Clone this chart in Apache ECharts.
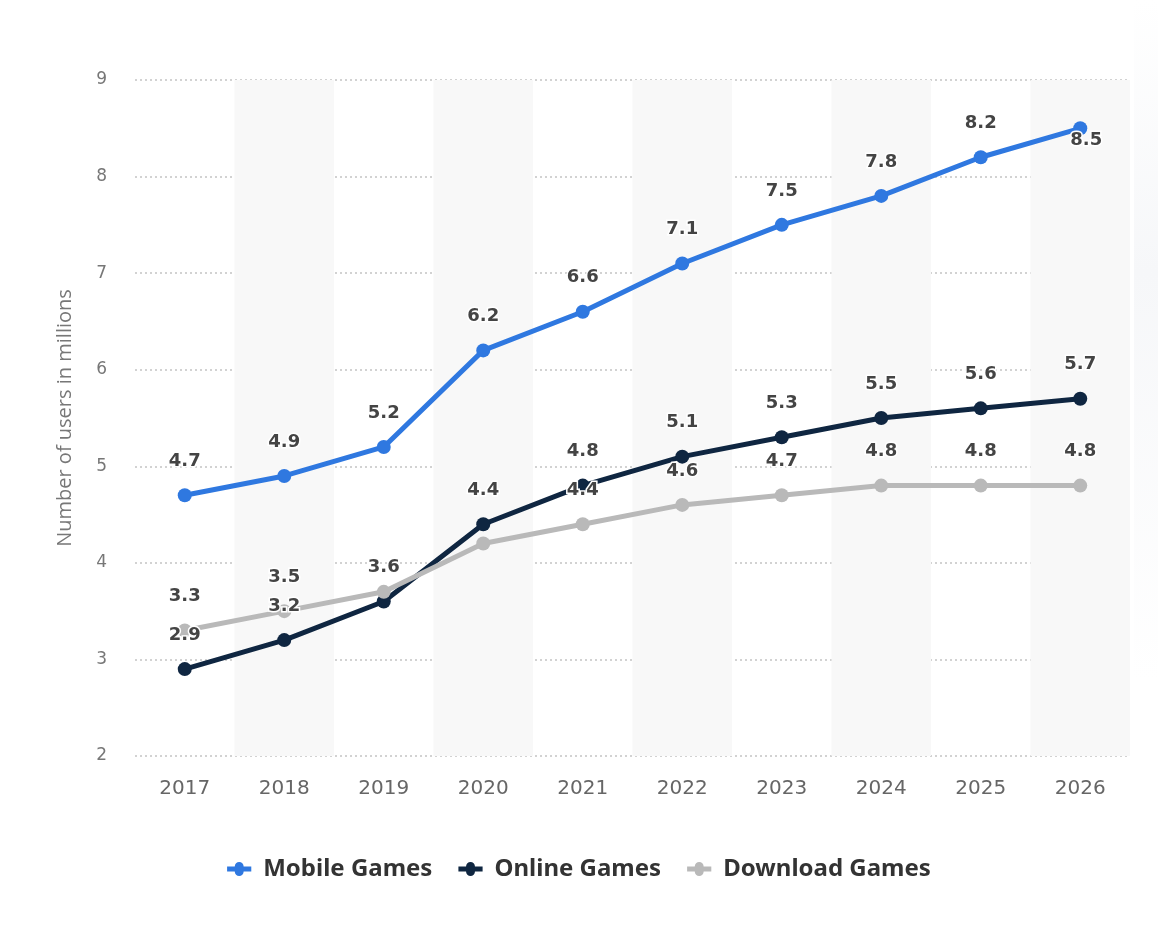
<!DOCTYPE html>
<html>
<head>
<meta charset="utf-8">
<script src="https://cdn.jsdelivr.net/npm/echarts@6/dist/echarts.min.js"></script>
<style>html,body{margin:0;padding:0;background:#fff}#c{width:1158px;height:938px}</style>
</head>
<body>
<div id="c"></div>
<script>
var categories = ['2017','2018','2019','2020','2021','2022','2023','2024','2025','2026'];
var mobileGames = [4.7, 4.9, 5.2, 6.2, 6.6, 7.1, 7.5, 7.8, 8.2, 8.5];
var onlineGames = [2.9, 3.2, 3.6, 4.4, 4.8, 5.1, 5.3, 5.5, 5.6, 5.7];
var downloadGames = [3.3, 3.5, 3.7, 4.2, 4.4, 4.6, 4.7, 4.8, 4.8, 4.8];
var seriesNames = ['Mobile Games', 'Online Games', 'Download Games'];
var hiddenDownloadLabels = [2, 3];

var chart = echarts.init(document.getElementById('c'));
var labelStyle = {
  show: true, position: 'top', distance: 18,
  fontFamily: 'DejaVu Sans', fontWeight: 'bold', fontSize: 18, color: '#444',
  textBorderColor: '#fff', textBorderWidth: 3
};
var legendIcon = 'path://M0,3 L12,3 A7,7 0 0 1 26,3 L38,3 L38,11 L26,11 A7,7 0 0 1 12,11 L0,11 Z';
function mk(name, vals, color, special) {
  return {
    name: name, type: 'line', data: vals.map(function (v, i) {
      var d = { value: v };
      if (special) { var s = special(i); if (s) d.label = s; }
      return d;
    }),
    symbol: 'circle', symbolSize: 14, lineStyle: { width: 5, color: color },
    itemStyle: { color: color }, label: labelStyle
  };
}
chart.setOption({
  animation: false,
  color: ['#2f78e0', '#0f2641', '#b9b9b9'],
  graphic: [{
    type: 'rect', left: 1134, top: 0, z: -10, silent: true,
    shape: { width: 24, height: 680 },
    style: { fill: new echarts.graphic.LinearGradient(0, 0, 1, 1, [{ offset: 0, color: '#ffffff' }, { offset: 0.4, color: '#f6f7f9' }, { offset: 1, color: '#ffffff' }]) }
  }],
  grid: { left: 135, right: 28, top: 80, bottom: 182 },
  legend: {
    bottom: 52, left: 'center', itemWidth: 38, itemHeight: 14, itemGap: 26,
    textStyle: { fontFamily: 'Noto Sans', fontWeight: 'bold', fontSize: 24, color: '#333' },
    data: seriesNames.map(function (n) { return { name: n, icon: legendIcon }; })
  },
  xAxis: {
    type: 'category', data: categories, boundaryGap: true,
    axisLine: { show: false }, axisTick: { show: false },
    axisLabel: { margin: 23, fontFamily: 'DejaVu Sans', fontSize: 20, color: '#666' },
    splitArea: { show: true, areaStyle: { color: ['rgba(0,0,0,0)', '#f8f8f8'] } }
  },
  yAxis: {
    type: 'value', min: 2, max: 9, interval: 1,
    name: 'Number of users in millions', nameLocation: 'middle', nameGap: 60, nameRotate: 90,
    nameTextStyle: { fontFamily: 'Open Sans', fontSize: 20, color: '#777' },
    axisLine: { show: false }, axisTick: { show: false },
    axisLabel: { margin: 28, fontFamily: 'DejaVu Sans', fontSize: 17, color: '#777' },
    splitLine: { lineStyle: { type: [2, 3], color: '#c4c4c4', width: 1.5 } }
  },
  series: [
    mk(seriesNames[0], mobileGames, '#2f78e0', function (i) { return i === 9 ? { offset: [6, 46] } : null; }),
    mk(seriesNames[1], onlineGames, '#0f2641'),
    mk(seriesNames[2], downloadGames, '#b9b9b9', function (i) { return hiddenDownloadLabels.indexOf(i) >= 0 ? { show: false } : null; })
  ]
});
</script>
</body>
</html>
